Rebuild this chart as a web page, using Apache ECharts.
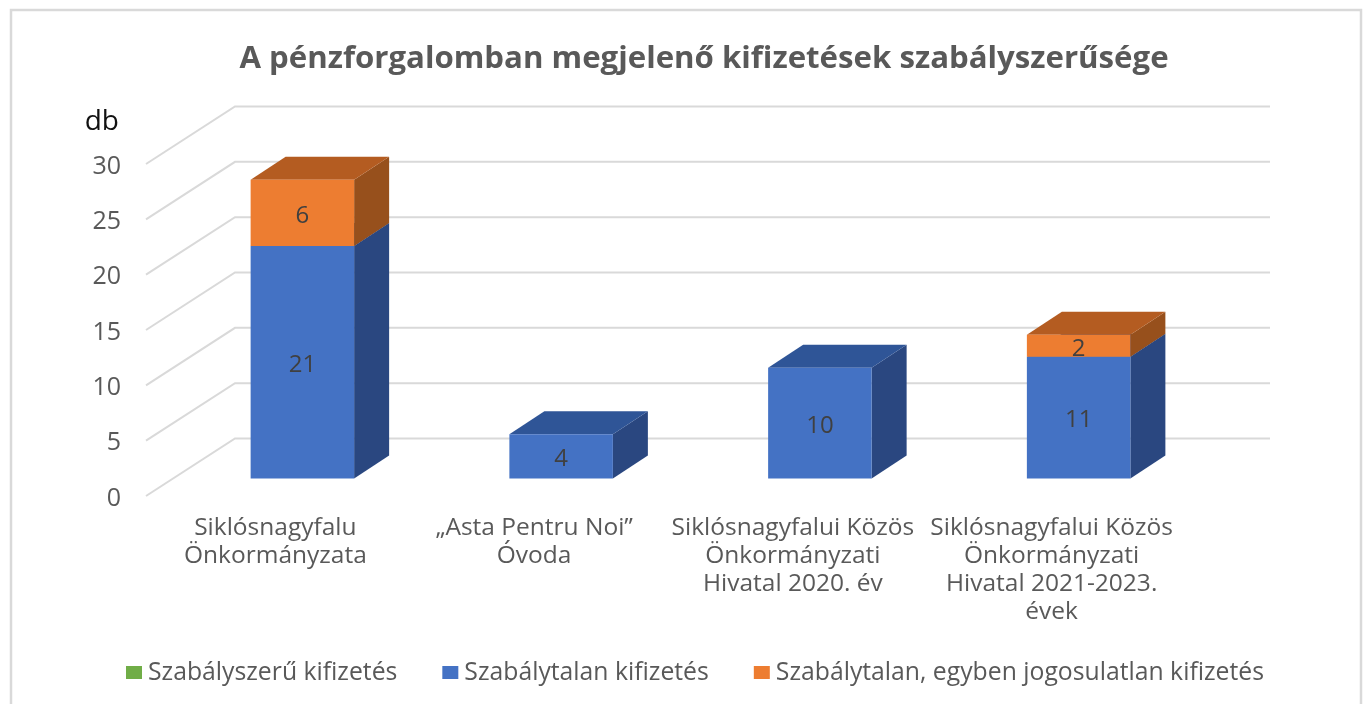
<!DOCTYPE html>
<html>
<head>
<meta charset="utf-8">
<title>A pénzforgalomban megjelenő kifizetések szabályszerűsége</title>
<style>
  html, body { margin: 0; padding: 0; background: #fff; }
  #chart { width: 1371px; height: 704px; }
</style>
<script src="https://cdn.jsdelivr.net/npm/echarts@6/dist/echarts.min.js"></script>
</head>
<body>
<div id="chart"></div>
<script>
var titleText = 'A pénzforgalomban megjelenő kifizetések szabályszerűsége';
var categories = [
  'Siklósnagyfalu\nÖnkormányzata',
  '„Asta Pentru Noi”\nÓvoda',
  'Siklósnagyfalui Közös\nÖnkormányzati\nHivatal 2020. év',
  'Siklósnagyfalui Közös\nÖnkormányzati\nHivatal 2021-2023.\névek'
];
var seriesNames = ['Szabályszerű kifizetés', 'Szabálytalan kifizetés', 'Szabálytalan, egyben jogosulatlan kifizetés'];
var regular = [0, 0, 0, 0];
var irregular = [21, 4, 10, 11];
var unauthorized = [6, 0, 0, 2];
var yTicks = [0, 5, 10, 15, 20, 25, 30];

var fontName = '"Open Sans", sans-serif';

// depth of the fake 3D box, in pixels
var wallDx = 89, wallDy = 57.5;
var barDx = 27, barDy = 17.5;
var boxDx = 35, boxDy = 23;

function buildRows(values, below) {
  var rows = [];
  for (var i = 0; i < values.length; i++) {
    var base = 0;
    for (var k = 0; k < below.length; k++) base += below[k][i];
    rows.push([i, base, base + values[i], values[i]]);
  }
  return rows;
}

function box3d(colors) {
  return function (params, api) {
    var size = api.value(3);
    if (!size) return null;
    var low = api.coord([api.value(0), api.value(1)]);
    var high = api.coord([api.value(0), api.value(2)]);
    var halfW = api.size([1, 0])[0] * 0.4 / 2;
    var x0 = low[0] + barDx - halfW;
    var x1 = low[0] + barDx + halfW;
    var y0 = low[1] - barDy;
    var y1 = high[1] - barDy;
    return {
      type: 'group',
      children: [
        { type: 'polygon', shape: { points: [[x1, y0], [x1 + boxDx, y0 - boxDy], [x1 + boxDx, y1 - boxDy], [x1, y1]] }, style: { fill: colors[2] } },
        { type: 'polygon', shape: { points: [[x0, y1], [x1, y1], [x1 + boxDx, y1 - boxDy], [x0 + boxDx, y1 - boxDy]] }, style: { fill: colors[1] } },
        { type: 'rect', shape: { x: x0, y: y1, width: x1 - x0, height: y0 - y1 }, style: { fill: colors[0] } },
        { type: 'text', style: { x: (x0 + x1) / 2, y: (y0 + y1) / 2 + 3, text: String(size), fill: '#404040', font: '24px ' + fontName, align: 'center', verticalAlign: 'middle' } }
      ]
    };
  };
}

function wallLine(params, api) {
  var front = api.coord([0, api.value(0)]);
  var left = params.coordSys.x;
  var right = left + params.coordSys.width;
  var y = front[1];
  return {
    type: 'polyline',
    shape: { points: [[left, y], [left + wallDx, y - wallDy], [right + wallDx, y - wallDy]] },
    style: { stroke: '#d9d9d9', lineWidth: 2, fill: null }
  };
}

function boxSeries(name, values, below, colors) {
  return {
    name: name,
    type: 'custom',
    renderItem: box3d(colors),
    itemStyle: { color: colors[0] },
    encode: { x: 0, y: 2 },
    clip: false,
    data: buildRows(values, below),
    z: 3
  };
}

var chart = echarts.init(document.getElementById('chart'));

chart.setOption({
  backgroundColor: '#fff',
  animation: false,
  title: {
    text: titleText,
    left: 699,
    top: 39,
    textAlign: 'center',
    textStyle: { fontFamily: fontName, fontSize: 31.2, fontWeight: 'bold', color: '#595959' }
  },
  legend: {
    left: 121,
    top: 655,
    icon: 'rect',
    itemWidth: 16,
    itemHeight: 13,
    itemGap: 45,
    data: seriesNames,
    textStyle: { fontFamily: fontName, fontSize: 24.75, color: '#595959', padding: [0, 0, 0, 1] }
  },
  graphic: [{
    type: 'rect',
    shape: { x: 11, y: 10, width: 1350, height: 720 },
    style: { fill: null, stroke: '#d9d9d9', lineWidth: 2.5 },
    silent: true
  }],
  grid: { left: 146, top: 164, width: 1035, height: 332 },
  xAxis: {
    type: 'category',
    data: categories,
    axisLine: { show: false },
    axisTick: { show: false },
    axisLabel: {
      interval: 0,
      margin: 18,
      fontFamily: fontName,
      fontSize: 24.5,
      lineHeight: 28,
      color: '#595959'
    }
  },
  yAxis: {
    type: 'value',
    min: 0,
    max: 30,
    interval: 5,
    name: 'db',
    nameLocation: 'end',
    nameGap: 28,
    nameTextStyle: { fontFamily: fontName, fontSize: 28, color: '#111', align: 'right', padding: [0, 27, 0, 0] },
    axisLine: { show: false },
    axisTick: { show: false },
    splitLine: { show: false },
    axisLabel: { margin: 25, fontFamily: fontName, fontSize: 25, color: '#595959', verticalAlign: 'top', padding: [-10, 0, 0, 0] }
  },
  series: [
    {
      name: 'wall',
      type: 'custom',
      renderItem: wallLine,
      encode: { y: 0 },
      clip: false,
      silent: true,
      data: yTicks.map(function (t) { return [t]; }),
      z: 1
    },
    boxSeries(seriesNames[0], regular, [], ['#70ad47', '#4f7a32', '#43682a']),
    boxSeries(seriesNames[1], irregular, [regular], ['#4472c4', '#2f5597', '#2a4780']),
    boxSeries(seriesNames[2], unauthorized, [regular, irregular], ['#ed7d31', '#b45c21', '#97501c'])
  ]
});
</script>
</body>
</html>
